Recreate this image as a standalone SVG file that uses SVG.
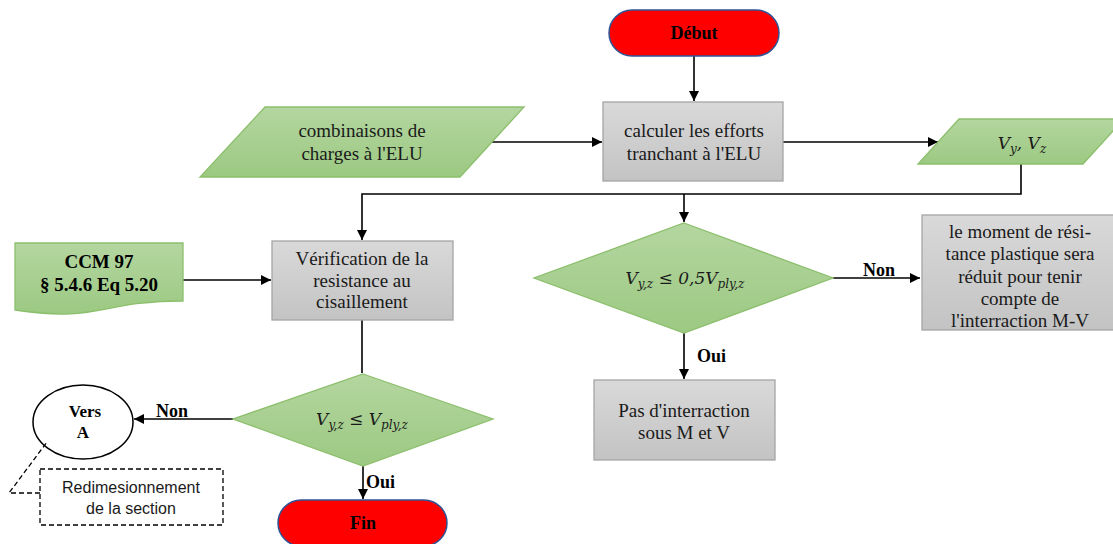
<svg xmlns="http://www.w3.org/2000/svg" width="1113" height="544" viewBox="0 0 1113 544">
  <defs>
    <linearGradient id="gGray" x1="0" y1="0" x2="0" y2="1">
      <stop offset="0" stop-color="#d9d9d9"/>
      <stop offset="1" stop-color="#c3c3c3"/>
    </linearGradient>
    <linearGradient id="gGreen" x1="0" y1="0" x2="0" y2="1">
      <stop offset="0" stop-color="#b4d6a0"/>
      <stop offset="1" stop-color="#9cc982"/>
    </linearGradient>
    <marker id="arrow" viewBox="0 0 10 10" refX="10" refY="5" markerWidth="10" markerHeight="10" markerUnits="userSpaceOnUse" orient="auto">
      <path d="M0,0 L10,5 L0,10 Z" fill="#000"/>
    </marker>
  </defs>
  <style>
    .proc { fill: url(#gGray); stroke: #a5a5a5; stroke-width: 1.3; }
    .data { fill: url(#gGreen); stroke: #8cbf6c; stroke-width: 1.3; }
    .term { fill: #ff0000; stroke: #2f5597; stroke-width: 1.5; }
    .t { font-family: "Liberation Serif", "Times New Roman", serif; font-size: 19px; fill: #1a1a1a; text-anchor: middle; }
    .b { font-family: "Liberation Serif", "Times New Roman", serif; font-size: 18px; font-weight: bold; fill: #000; text-anchor: middle; }
    .lbl { font-family: "Liberation Serif", "Times New Roman", serif; font-size: 18px; font-weight: bold; fill: #000; }
    .m { font-family: "DejaVu Serif", "Liberation Serif", serif; font-style: italic; font-size: 17px; fill: #1a1a1a; text-anchor: middle; }
    .sub { font-size: 12px; }
    .c { fill: none; stroke: #000; stroke-width: 1.6; }
    .dash { fill: none; stroke: #000; stroke-width: 1.3; stroke-dasharray: 5 3; }
    .note { font-family: "Liberation Sans", Arial, sans-serif; font-size: 16px; fill: #1a1a1a; text-anchor: middle; }
  </style>

  <!-- connectors -->
  <g id="connectors">
    <path class="c" d="M694,56 V101" marker-end="url(#arrow)"/>
    <path class="c" d="M492,142 H602" marker-end="url(#arrow)"/>
    <path class="c" d="M783,142 H938" marker-end="url(#arrow)"/>
    <path class="c" d="M1021,164 V194 H362 V240" marker-end="url(#arrow)"/>
    <path class="c" d="M684,194 V222" marker-end="url(#arrow)"/>
    <path class="c" d="M183,280 H271" marker-end="url(#arrow)"/>
    <path class="c" d="M833,278 H920" marker-end="url(#arrow)"/>
    <path class="c" d="M684,333 V379" marker-end="url(#arrow)"/>
    <path class="c" d="M362,320 V373"/>
    <path class="c" d="M233,419 H134" marker-end="url(#arrow)"/>
    <path class="c" d="M363,466 V499" marker-end="url(#arrow)"/>
    <text class="lbl" x="863" y="276">Non</text>
    <text class="lbl" x="697" y="362">Oui</text>
    <text class="lbl" x="156" y="417">Non</text>
    <text class="lbl" x="366" y="488">Oui</text>
  </g>

  <g id="debut">
    <rect class="term" x="609" y="10" width="170" height="46" rx="23"/>
    <text class="b" x="694" y="39">Début</text>
  </g>

  <g id="combinaisons">
    <polygon class="data" points="265,107 524,107 460,177 200,177"/>
    <text class="t" x="362" y="137">combinaisons de</text>
    <text class="t" x="362" y="160">charges à l'ELU</text>
  </g>

  <g id="calcul">
    <rect class="proc" x="603" y="102" width="180" height="79"/>
    <text class="t" x="694" y="137">calculer les efforts</text>
    <text class="t" x="694" y="160">tranchant à l'ELU</text>
  </g>

  <g id="vyvz">
    <polygon class="data" points="959,119 1124,119 1083,164 918,164"/>
    <text class="m" x="1022" y="149">V<tspan class="sub" dy="4">y</tspan><tspan dy="-4">, V</tspan><tspan class="sub" dy="4">z</tspan></text>
  </g>

  <g id="ccm">
    <path class="data" d="M15,243 H183 V301 C99,301 99,323 15,310 Z"/>
    <text class="b" x="99" y="268" style="font-size:19px">CCM 97</text>
    <text class="b" x="99" y="291" style="font-size:19px">§ 5.4.6 Eq 5.20</text>
  </g>

  <g id="verification">
    <rect class="proc" x="272" y="241" width="181" height="79"/>
    <text class="t" x="362" y="265">Vérification de la</text>
    <text class="t" x="362" y="287">resistance au</text>
    <text class="t" x="362" y="308">cisaillement</text>
  </g>

  <g id="test-05">
    <polygon class="data" points="684,223 833,278 684,333 534,278"/>
    <text class="m" x="685" y="284">V<tspan class="sub" dy="4">y,z</tspan><tspan dy="-4"> ≤ 0,5V</tspan><tspan class="sub" dy="4">ply,z</tspan></text>
  </g>

  <g id="reduction">
    <rect class="proc" x="922" y="215" width="196" height="115"/>
    <text class="t" x="1020" y="238">le moment de rési-</text>
    <text class="t" x="1020" y="260">tance plastique sera</text>
    <text class="t" x="1020" y="283">réduit pour tenir</text>
    <text class="t" x="1020" y="305">compte de</text>
    <text class="t" x="1020" y="327">l'interraction M-V</text>
  </g>

  <g id="sans-interaction">
    <rect class="proc" x="594" y="380" width="181" height="80"/>
    <text class="t" x="684" y="417">Pas d'interraction</text>
    <text class="t" x="684" y="439">sous M et V</text>
  </g>

  <g id="test-ply">
    <polygon class="data" points="363,374 493,419 363,466 233,419"/>
    <text class="m" x="362" y="425">V<tspan class="sub" dy="4">y,z</tspan><tspan dy="-4"> ≤ V</tspan><tspan class="sub" dy="4">ply,z</tspan></text>
  </g>

  <g id="vers-a">
    <ellipse cx="83" cy="422" rx="50" ry="37" fill="#fff" stroke="#000" stroke-width="1.5"/>
    <text class="b" x="85" y="417" style="font-size:17px">Vers</text>
    <text class="b" x="83" y="438" style="font-size:17px">A</text>
  </g>

  <g id="note">
    <rect class="dash" x="40" y="469" width="183" height="56"/>
    <path class="dash" d="M40,493 H9 L47,442"/>
    <text class="note" x="131" y="493">Redimesionnement</text>
    <text class="note" x="131" y="514">de la section</text>
  </g>

  <g id="fin">
    <rect class="term" x="278" y="500" width="169" height="46" rx="23"/>
    <text class="b" x="363" y="529">Fin</text>
  </g>
</svg>
